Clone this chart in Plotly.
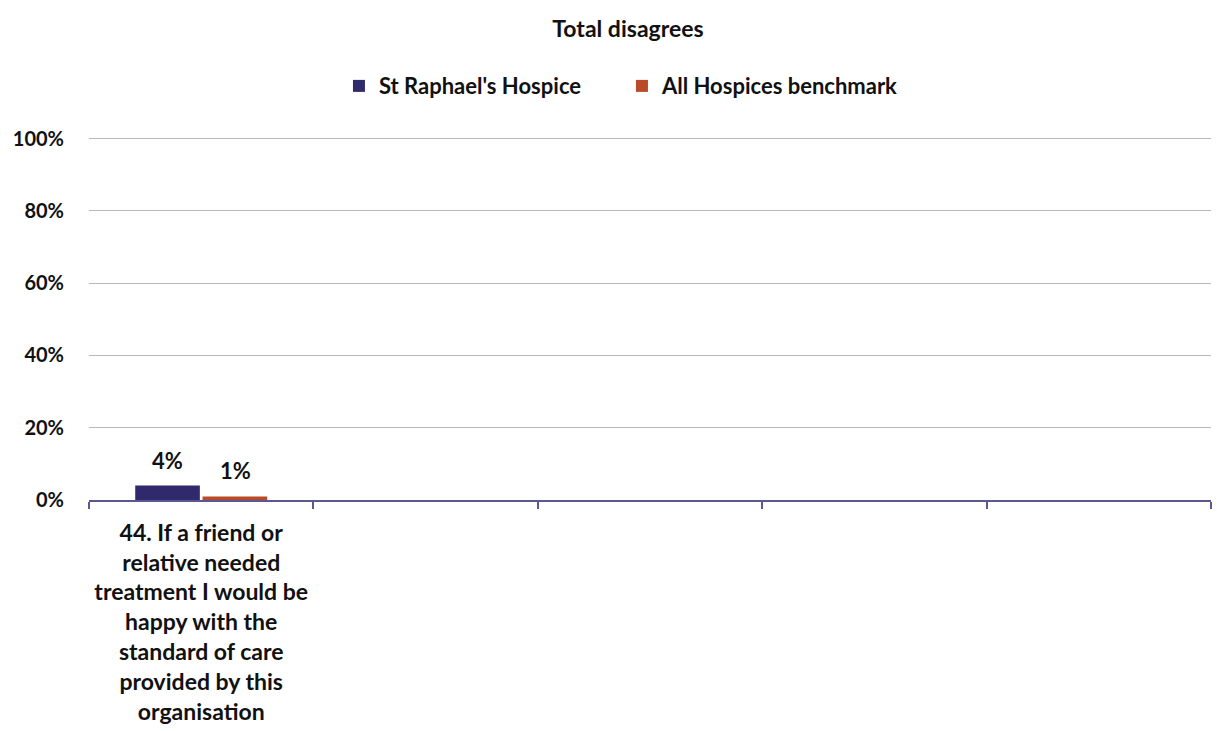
import plotly.graph_objects as go

# Survey question slots (only the first carries data)
categories = [
    "44. If a friend or<br>relative needed<br>treatment I would be<br>happy with the<br>standard of care<br>provided by this<br>organisation",
    " ", "  ", "   ", "    ",
]
hospice_values = [4, None, None, None, None]
benchmark_values = [1, None, None, None, None]
series_names = ["St Raphael's Hospice", "All Hospices benchmark"]
y_ticks = [0, 20, 40, 60, 80, 100]
y_tick_labels = ["0%", "20%", "40%", "60%", "80%", "100%"]

FONT = "Lato"
INK = "#111111"
NAVY = "#302a6c"
RUST = "#bb4a29"
AXIS = "#5a5890"

fig = go.Figure()
for name, vals, color in [
    (series_names[0], hospice_values, NAVY),
    (series_names[1], benchmark_values, RUST),
]:
    fig.add_trace(go.Bar(
        x=categories, y=vals, name=f"<b>{name}</b>",
        marker=dict(color=color, line=dict(width=0)),
        hoverinfo="x+y",
    ))

# value labels sitting above each bar of the grouped pair
label_shift = {0: -34, 1: 34}
for idx, vals in enumerate([hospice_values, benchmark_values]):
    for cat, v in zip(categories, vals):
        if v is None:
            continue
        fig.add_annotation(
            x=cat, y=v, xref="x", yref="y",
            text=f"<b>{v}%</b>", showarrow=False,
            xshift=label_shift[idx], yshift=10, yanchor="bottom",
            font=dict(family=FONT, size=22, color=INK),
        )

fig.update_layout(
    width=1217, height=731,
    margin=dict(l=89, r=6, t=135, b=229),
    paper_bgcolor="white", plot_bgcolor="white",
    barmode="group", bargap=0.4, bargroupgap=0.04,
    font=dict(family=FONT, color=INK),
    title=dict(
        text="<b>Total disagrees</b>", xref="container", x=0.516,
        xanchor="center", y=0.96, yanchor="middle",
        font=dict(family=FONT, size=23, color=INK),
    ),
    legend=dict(
        orientation="h", x=0.475, xanchor="center", y=1.134, yanchor="middle",
        font=dict(family=FONT, size=22, color=INK),
        traceorder="normal", itemwidth=30,
        entrywidth=238, entrywidthmode="pixels",
    ),
    showlegend=True,
)
fig.update_xaxes(
    type="category", categoryorder="array", categoryarray=categories,
    showgrid=False, showline=True, linecolor=AXIS, linewidth=2,
    ticks="outside", tickson="boundaries", ticklen=7, tickcolor=AXIS,
    tickwidth=2, tickfont=dict(family=FONT, size=23, color=INK),
    tickangle=0, tickprefix="<b>", ticksuffix="</b>",
    ticklabelstandoff=11,
)
fig.update_yaxes(
    range=[0, 101], tickvals=y_ticks,
    ticktext=[f"<b>{t}</b>" for t in y_tick_labels],
    showgrid=True, gridcolor="#b9b8d2", gridwidth=1,
    zeroline=False, showline=False, ticks="",
    tickfont=dict(family=FONT, size=20, color=INK),
    ticklabelstandoff=24,
)

fig.write_html("out.html")
